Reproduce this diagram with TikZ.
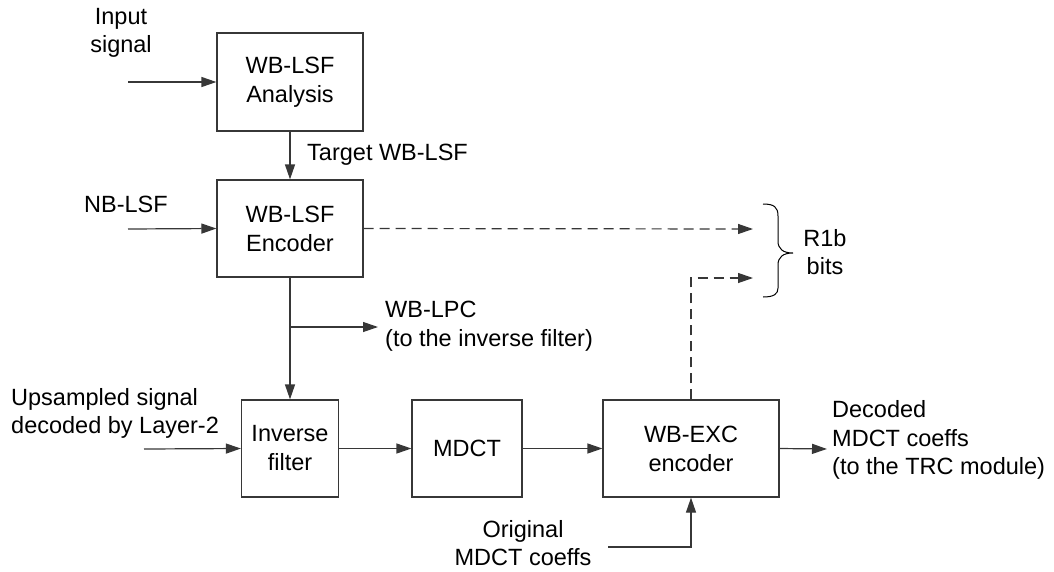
\documentclass[tikz,border=0pt]{standalone}
\usepackage{fontspec}
\setmainfont{Liberation Sans}
\usetikzlibrary{arrows.meta}
\definecolor{linegray}{RGB}{55,55,55}
\tikzset{
  block/.style={draw=linegray, line width=1.2pt, fill=white, align=center,
    inner sep=0pt, font=\fontsize{23.5}{29}\selectfont},
  lbl/.style={inner sep=0pt, font=\fontsize{23.5}{28.5}\selectfont},
  flow/.style={draw=linegray, line width=1.2pt, -{Triangle[length=15pt,width=10pt]}},
  bitflow/.style={flow, dash pattern=on 10pt off 6pt},
}
\begin{document}
\begin{tikzpicture}[x=1pt,y=-1pt]
\useasboundingbox (0,0) rectangle (1054,571);

% processing blocks
\node[block, minimum width=146pt, minimum height=98pt] (ana) at (290,82) {WB-LSF\\Analysis};
\node[block, minimum width=146pt, minimum height=97pt] (enc) at (290,228.5) {WB-LSF\\Encoder};
\node[block, minimum width=97pt, minimum height=97pt] (inv) at (290,448.5) {Inverse\\filter};
\node[block, minimum width=110pt, minimum height=97pt] (mdct) at (467,448.5) {MDCT};
\node[block, minimum width=176pt, minimum height=97pt] (exc) at (691,448.5) {WB-EXC\\encoder};

% signal labels
\node[lbl, align=center] (inlbl) at (121,33) {Input\\signal};
\node[lbl] (nblbl) at (126,204) {NB-LSF};
\node[lbl, anchor=west] (tgtlbl) at (307,155) {Target WB-LSF};
\node[lbl, anchor=west, align=left] (lpclbl) at (385,326) {WB-LPC\\(to the inverse filter)};
\node[lbl, anchor=west, align=left] (uplbl) at (11,413.5) {Upsampled signal\\decoded by Layer-2};
\node[lbl, anchor=west, align=left] (declbl) at (832,440) {Decoded\\MDCT coeffs\\(to the TRC module)};
\node[lbl, align=center] (origlbl) at (523,543) {Original\\MDCT coeffs};
\node[lbl, align=center] (bitslbl) at (825,252) {R1b\\bits};

% free ends of connectors
\coordinate (inA) at (128,82);
\coordinate (inB) at (128,229);
\coordinate (inC) at (144,449);
\coordinate (lpcend) at (378,327);
\coordinate (bitsA) at (753,229);
\coordinate (bitsB) at (753,278);
\coordinate (outD) at (827,449);
\coordinate (origin) at (608,547);

% solid signal paths
\draw[flow] (inA) -- (ana.west);
\draw[flow] (ana.south) -- (enc.north);
\draw[flow] (inB) -- (enc.west);
\draw[flow] (enc.south) -- (inv.north);
\draw[flow] (enc.south |- lpcend) -- (lpcend);
\draw[flow] (inC) -- (inv.west);
\draw[flow] (inv.east) -- (mdct.west);
\draw[flow] (mdct.east) -- (exc.west);
\draw[flow] (exc.east) -- (outD);
\draw[flow] (origin) -- (exc.south |- origin) -- (exc.south);

% bitstream paths
\draw[bitflow] (enc.east) -- (bitsA);
\draw[bitflow] (exc.north) -- (exc.north |- bitsB) -- (bitsB);

% brace grouping the bits
\draw[black, line width=1pt]
  (763,204) .. controls (774,204) and (778,207) .. (778,216)
  -- (778,241) .. controls (778,249) and (783,253) .. (793,253)
  .. controls (783,253) and (778,257) .. (778,265)
  -- (778,288) .. controls (778,294) and (774,297) .. (763,297);
\end{tikzpicture}
\end{document}
